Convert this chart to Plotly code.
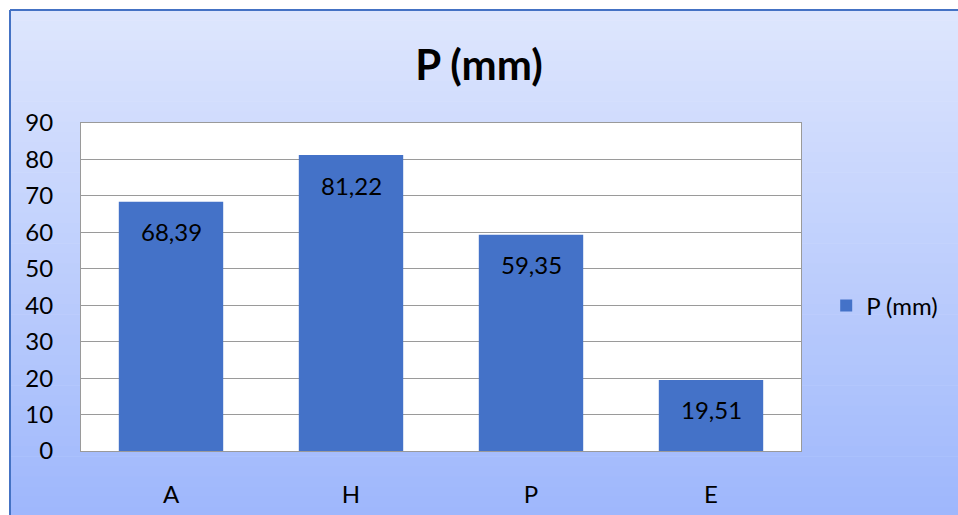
import plotly.graph_objects as go

categories = ["A", "H", "P", "E"]
values = [68.39, 81.22, 59.35, 19.51]
series_name = "P (mm)"
y_ticks = [0, 10, 20, 30, 40, 50, 60, 70, 80, 90]

W, H = 958, 515
ML, MR, MT, MB = 81, 157, 123, 64
PW, PH = W - ML - MR, H - MT - MB


def px_x(px):
    return (px - ML) / PW


def px_y(py):
    return (H - MB - py) / PH


FONT = "Lato"

fig = go.Figure()
fig.add_trace(go.Bar(
    x=categories, y=values, name=series_name,
    marker=dict(color="#4472c8", line=dict(width=0)),
    showlegend=True,
))

# value labels
for c, v in zip(categories, values):
    fig.add_annotation(x=c, y=v, text=f"{v:.2f}".replace(".", ","), showarrow=False,
                       yshift=-30, font=dict(family=FONT, size=24, color="#000000"))

# background gradient
shapes = []
top_c = (222, 230, 253)
bot_c = (158, 183, 252)
n = 50
y0p, y1p = 10, H + 2
for i in range(n):
    a = y0p + (y1p - y0p) * i / n
    b = y0p + (y1p - y0p) * (i + 1) / n + 0.6
    t = (i + 0.5) / n
    col = tuple(round(top_c[k] + (bot_c[k] - top_c[k]) * t) for k in range(3))
    shapes.append(dict(type="rect", xref="paper", yref="paper", layer="below",
                       x0=px_x(10), x1=px_x(W + 2), y0=px_y(b), y1=px_y(a),
                       line=dict(width=0), fillcolor="rgb(%d,%d,%d)" % col))
# white plot area
shapes.append(dict(type="rect", xref="paper", yref="paper", layer="below",
                   x0=0, x1=1, y0=0, y1=1, line=dict(width=0), fillcolor="#ffffff"))
# chart frame (left and top edges)
shapes.append(dict(type="line", xref="paper", yref="paper", layer="below",
                   x0=px_x(10), x1=px_x(10), y0=px_y(H + 5), y1=px_y(10),
                   line=dict(width=2, color="#4472c4")))
shapes.append(dict(type="line", xref="paper", yref="paper", layer="below",
                   x0=px_x(10), x1=px_x(W + 5), y0=px_y(10), y1=px_y(10),
                   line=dict(width=2, color="#4472c4")))

fig.update_layout(
    width=W, height=H,
    margin=dict(l=ML, r=MR, t=MT, b=MB, autoexpand=False),
    paper_bgcolor="#ffffff",
    plot_bgcolor="rgba(0,0,0,0)",
    shapes=shapes,
    bargap=0.42,
    separators=", ",
    title=dict(text="<b>" + series_name + "</b>", x=0.5, xref="container", xanchor="center",
               y=1 - 65 / H, yref="container", yanchor="middle",
               font=dict(family=FONT, size=42, color="#000000")),
    font=dict(family=FONT, size=24, color="#000000"),
    legend=dict(x=1.035, xanchor="left", y=px_y(306), yanchor="middle",
                font=dict(family=FONT, size=24, color="#000000"),
                bgcolor="rgba(0,0,0,0)", itemwidth=30),
    xaxis=dict(showgrid=False, showline=True, linecolor="#9a9a9a", linewidth=1,
               mirror=True, ticks="", ticklabelstandoff=22, automargin=False,
               tickfont=dict(family=FONT, size=24, color="#000000")),
    yaxis=dict(range=[0, 90], tickvals=y_ticks, showgrid=True, gridcolor="#9a9a9a",
               gridwidth=1, showline=True, linecolor="#9a9a9a", linewidth=1, mirror=True,
               zeroline=False, ticks="", ticklabelstandoff=22, automargin=False,
               tickfont=dict(family=FONT, size=24, color="#000000")),
)

fig.write_html("out.html", config={"displayModeBar": False},
               post_script=("document.body.style.margin='0';"
                            "document.body.style.overflow='hidden';"
                            "document.documentElement.style.overflow='hidden';"))
